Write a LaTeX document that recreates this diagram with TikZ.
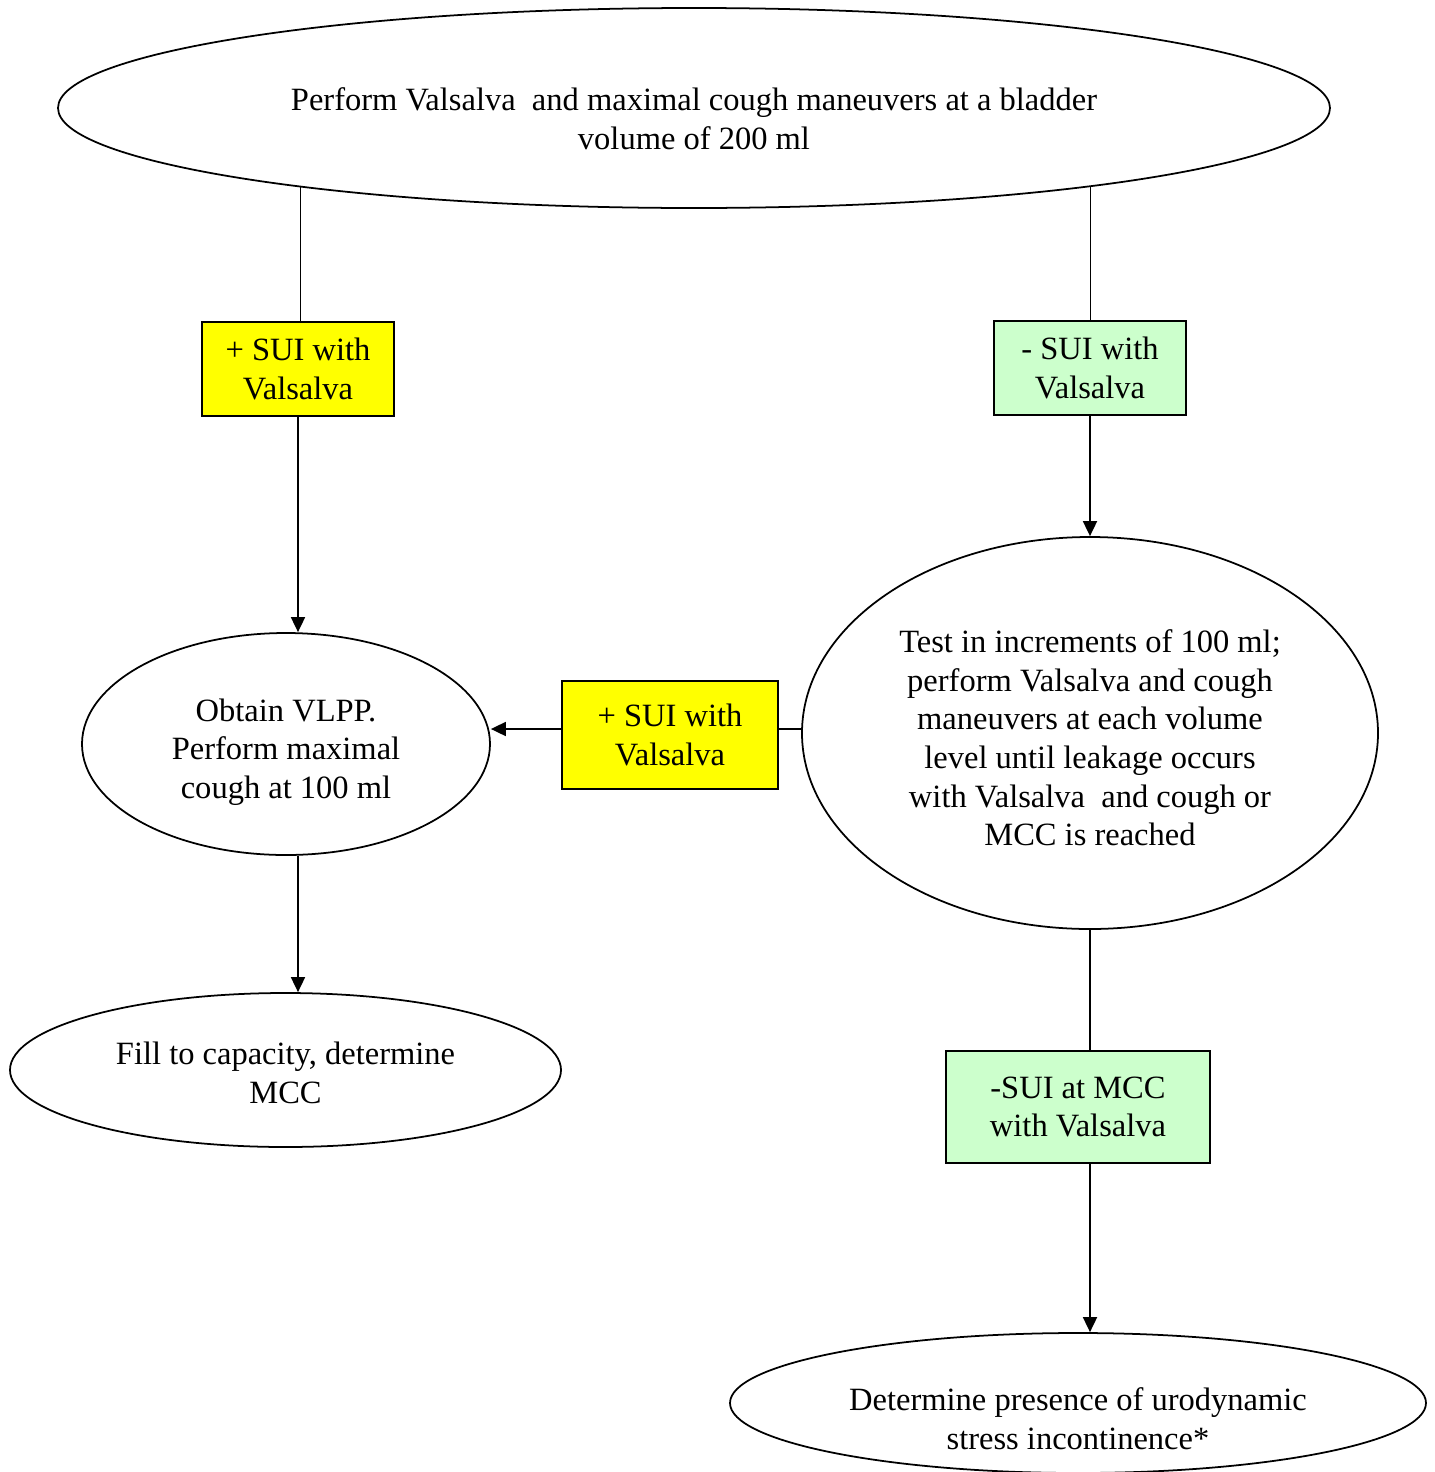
\documentclass[tikz,border=0pt]{standalone}
\usepackage{fontspec}
\setmainfont{Liberation Serif}
\usetikzlibrary{shapes.geometric,arrows.meta,backgrounds}
\definecolor{suiyes}{HTML}{FFFF00}
\definecolor{suino}{HTML}{CCFFCC}
\begin{document}
\begin{tikzpicture}[line width=1pt, every node/.style={font=\fontsize{18.5}{22}\selectfont,align=center},
  oval/.style={draw,ellipse,fill=white,inner sep=0pt},
  box/.style={draw,rectangle,inner sep=2pt},
  arr/.style={-{Triangle[length=0.3cm,width=0.28cm]}}]
\useasboundingbox (0,0) rectangle (28.7,-29.44);
\node[oval,minimum width=25.44cm,minimum height=4cm] (top) at (13.88,-2.16) {};
\node (top-t) at ([yshift=-0.22cm]top) {Perform Valsalva~ and maximal cough maneuvers at a bladder\\volume of 200 ml};
\node[box,fill=suiyes,minimum width=3.84cm,minimum height=1.88cm] (ylw1) at (5.96,-7.38) {+ SUI with\\Valsalva};
\node[box,fill=suino,minimum width=3.84cm,minimum height=1.88cm] (grn1) at (21.8,-7.36) {- SUI with\\Valsalva};
\node[oval,minimum width=8.16cm,minimum height=4.44cm] (vlpp) at (5.72,-14.88) {};
\node (vlpp-t) at ([yshift=-0.16cm]vlpp) {Obtain VLPP.\\Perform maximal\\cough at 100 ml};
\node[box,fill=suiyes,minimum width=4.32cm,minimum height=2.16cm] (ylw2) at (13.4,-14.7) {+ SUI with\\Valsalva};
\node[oval,minimum width=11.52cm,minimum height=7.84cm] (rtest) at (21.8,-14.66) {};
\node (rtest-t) at ([yshift=-0.1cm]rtest) {Test in increments of 100 ml;\\perform Valsalva and cough\\maneuvers at each volume\\level until leakage occurs\\with Valsalva~ and cough or\\MCC is reached};
\node[oval,minimum width=11.02cm,minimum height=3.08cm] (fill) at (5.71,-21.4) {};
\node (fill-t) at ([yshift=-0.06cm]fill) {Fill to capacity, determine\\MCC};
\node[box,fill=suino,minimum width=5.28cm,minimum height=2.24cm] (grn2) at (21.56,-22.14) {-SUI at MCC\\with Valsalva};
\node[oval,minimum width=13.92cm,minimum height=2.8cm] (final) at (21.56,-28.06) {};
\node (final-t) at ([yshift=-0.32cm]final) {Determine presence of urodynamic\\stress incontinence*};
\begin{scope}[on background layer]
% left branch
\draw ([xshift=0.04cm]ylw1.north) -- ([xshift=0.04cm]ylw1.north |- top.center);
% right branch
\draw (grn1.north) -- (grn1.north |- top.center);
\end{scope}
\draw[arr] (ylw1.south) -- (ylw1.south |- vlpp.north);
\draw[arr] (ylw1.south |- vlpp.south) -- (ylw1.south |- fill.north);
\draw[arr] (grn1.south) -- (rtest.north);
\draw ([yshift=0.12cm]ylw2.east) -- ([yshift=0.12cm]ylw2.east -| rtest.west);
\draw[arr] ([yshift=0.12cm]ylw2.west) -- ([yshift=0.12cm]ylw2.west -| vlpp.east);
\draw (rtest.south) -- (rtest.south |- grn2.north);
\draw[arr] (rtest.south |- grn2.south) -- (rtest.south |- final.north);
\end{tikzpicture}
\end{document}
